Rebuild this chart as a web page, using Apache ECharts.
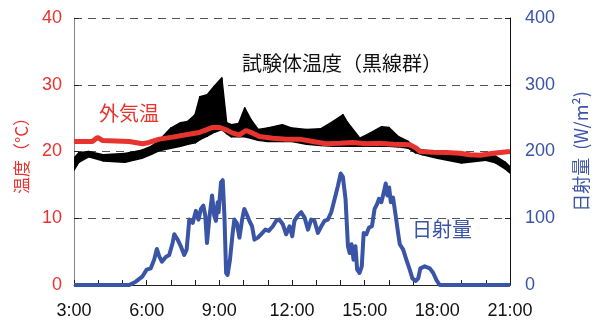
<!DOCTYPE html>
<html>
<head>
<meta charset="utf-8">
<script src="https://cdn.jsdelivr.net/npm/echarts@6/dist/echarts.min.js"></script>
<style>
  html, body { margin: 0; padding: 0; background: #fff; }
  #chart { width: 598px; height: 323px; }
</style>
</head>
<body>
<div id="chart"></div>
<script>
// Time of day in hours (3:00 - 21:00)
var bandTimes = [3.0, 3.2, 3.6, 4.2, 5.1, 5.8, 6.2, 6.5, 7.0, 7.4, 7.7, 8.0, 8.2, 8.5, 8.8, 9.1, 9.3, 9.5, 9.8, 10.05, 10.3, 10.6, 11.0, 11.6, 12.0, 12.6, 13.2, 13.7, 14.1, 14.3, 14.8, 15.2, 15.7, 16.0, 16.4, 16.8, 17.1, 17.4, 18.0, 19.0, 20.0, 20.4, 20.8, 21.0];
// Specimen temperatures (black line group): lowest and highest curve, °C
var specimenLow  = [17.2, 18.4, 19.2, 18.6, 18.4, 19.0, 19.6, 20.1, 20.5, 20.8, 21.1, 21.3, 21.8, 22.3, 22.9, 23.3, 22.7, 22.2, 22.2, 22.2, 22.0, 21.7, 21.5, 21.5, 21.5, 21.1, 20.9, 20.8, 20.8, 20.8, 20.8, 20.8, 20.8, 20.8, 20.7, 20.5, 19.8, 19.5, 19.0, 18.3, 18.7, 18.3, 17.4, 16.8];
var specimenHigh = [19.0, 19.8, 20.0, 19.5, 19.7, 20.2, 20.8, 21.6, 23.5, 24.3, 24.5, 25.5, 28.2, 28.5, 29.8, 31.0, 24.3, 24.0, 24.2, 26.5, 24.8, 23.3, 23.5, 24.0, 23.5, 23.3, 23.4, 24.5, 25.5, 24.3, 22.0, 22.7, 23.7, 23.6, 22.2, 21.5, 20.5, 20.2, 19.9, 19.3, 19.5, 19.3, 18.4, 17.7];

// Outdoor air temperature, °C
var airTimes = [3.0, 3.76, 3.97, 4.17, 5.28, 5.83, 6.1, 6.52, 7.07, 7.62, 8.17, 8.45, 8.72, 9.0, 9.28, 9.55, 9.83, 10.1, 10.38, 10.66, 11.21, 11.76, 12.31, 12.86, 13.41, 13.97, 14.52, 15.07, 15.62, 16.17, 16.86, 17.14, 17.28, 17.83, 18.38, 18.93, 19.34, 19.76, 20.31, 21.0];
var airTemp  = [21.5, 21.5, 22.1, 21.65, 21.5, 21.15, 21.35, 21.85, 22.15, 22.5, 22.85, 23.25, 23.6, 23.6, 23.25, 22.75, 22.5, 23.15, 22.75, 22.25, 22.0, 21.85, 21.85, 21.5, 21.15, 21.25, 21.35, 21.15, 21.25, 21.1, 21.0, 20.5, 20.0, 19.9, 19.85, 19.75, 19.5, 19.45, 19.75, 20.0];

// Solar radiation, W/m²
var solarTimes = [3.0, 5.28, 5.55, 5.83, 6.0, 6.17, 6.31, 6.42, 6.52, 6.63, 6.79, 6.93, 7.07, 7.14, 7.28, 7.41, 7.55, 7.65, 7.76, 7.9, 8.03, 8.14, 8.24, 8.34, 8.42, 8.49, 8.59, 8.70, 8.79, 8.86, 8.93, 8.97, 9.07, 9.14, 9.21, 9.28, 9.34, 9.44, 9.55, 9.62, 9.72, 9.83, 9.94, 10.03, 10.13, 10.24, 10.35, 10.45, 10.59, 10.72, 10.9, 11.04, 11.21, 11.34, 11.48, 11.62, 11.76, 11.9, 12.01, 12.1, 12.24, 12.38, 12.52, 12.66, 12.79, 12.93, 13.07, 13.21, 13.34, 13.48, 13.62, 13.76, 13.9, 14.01, 14.1, 14.21, 14.31, 14.38, 14.46, 14.54, 14.62, 14.69, 14.79, 14.88, 14.96, 15.07, 15.18, 15.30, 15.41, 15.51, 15.59, 15.69, 15.79, 15.87, 15.94, 16.01, 16.08, 16.17, 16.28, 16.38, 16.45, 16.59, 16.72, 16.86, 16.97, 17.11, 17.21, 17.30, 17.48, 17.69, 17.83, 17.97, 18.1, 21.0];
var solarValues = [0, 0, 5, 13, 23, 25, 38, 54, 43, 35, 42, 45, 63, 76, 68, 58, 45, 53, 98, 93, 111, 98, 114, 119, 104, 63, 101, 134, 104, 96, 124, 109, 154, 157, 104, 18, 15, 38, 78, 98, 93, 71, 98, 114, 106, 96, 88, 68, 71, 76, 83, 81, 88, 96, 98, 91, 76, 88, 73, 96, 104, 109, 101, 83, 98, 96, 78, 88, 96, 98, 109, 129, 149, 167, 162, 129, 58, 48, 61, 38, 58, 23, 18, 28, 78, 76, 86, 88, 114, 121, 129, 124, 139, 152, 134, 146, 124, 131, 104, 78, 61, 53, 38, 23, 10, 6, 10, 25, 28, 25, 18, 7, 0, 0];

// Axis tick settings
var hourTicks = [3, 21, 3];      // min, max, step (hours)
var tempTicks = [0, 40, 10];     // °C
var solarTicks = [0, 400, 100];  // W/m²

function pairs(xs, ys) {
  return xs.map(function (x, i) { return [x, ys[i]]; });
}

var RED = '#e8342f';
var BLUE = '#3a54a6';
var LATIN = '"Liberation Sans", Arial, sans-serif';
var CJK = '"Noto Sans CJK JP", sans-serif';

// rows: [time, lowest specimen temp, highest specimen temp]
var bandRows = bandTimes.map(function (t, i) { return [t, specimenLow[i], specimenHigh[i]]; });

// Each item fills the strip between the lowest and highest curve up to the next time step
function renderBand(params, api) {
  var i = params.dataIndex;
  if (i >= bandRows.length - 1) return null;
  var a = bandRows[i], b = bandRows[i + 1];
  var p1 = api.coord([a[0], a[1]]);
  var p2 = api.coord([a[0], a[2]]);
  var p3 = api.coord([b[0], b[2]]);
  var p4 = api.coord([b[0], b[1]]);
  return {
    type: 'polygon',
    shape: { points: [p1, p2, p3, p4] },
    style: { fill: '#000', stroke: '#000', lineWidth: 1.6, lineJoin: 'round' }
  };
}

var chart = echarts.init(document.getElementById('chart'), null, { renderer: 'canvas' });

chart.setOption({
  animation: false,
  backgroundColor: '#ffffff',
  grid: { left: 74, right: 88, top: 18, bottom: 38 },
  xAxis: {
    type: 'value',
    min: hourTicks[0], max: hourTicks[1], interval: hourTicks[2],
    axisLine: { show: true, onZero: false, lineStyle: { color: '#222', width: 1 } },
    axisTick: { show: true, inside: true, length: 5, lineStyle: { color: '#222' } },
    minorTick: { show: true, splitNumber: 3, length: 5, lineStyle: { color: '#222' } },
    splitLine: { show: false },
    axisLabel: {
      color: '#111', fontSize: 18, fontFamily: LATIN, margin: 17,
      formatter: function (v) { return v + ':00'; }
    }
  },
  yAxis: [
    {
      type: 'value',
      min: tempTicks[0], max: tempTicks[1], interval: tempTicks[2],
      position: 'left',
      name: '温度（°C）',
      nameLocation: 'middle',
      nameGap: 44,
      nameRotate: 90,
      nameTextStyle: { color: RED, fontSize: 17, fontFamily: CJK },
      axisLine: { show: true, lineStyle: { color: '#888', width: 1 } },
      axisTick: { show: true, inside: true, length: 5, lineStyle: { color: '#222' } },
      axisLabel: { color: RED, fontSize: 18, fontFamily: LATIN, margin: 12 },
      splitLine: { show: true, lineStyle: { color: '#555', type: [8, 6], width: 1.2 } }
    },
    {
      type: 'value',
      min: solarTicks[0], max: solarTicks[1], interval: solarTicks[2],
      position: 'right',
      name: '日射量  (W/m²)',
      nameLocation: 'middle',
      nameGap: 62,
      nameRotate: 90,
      nameTextStyle: { color: BLUE, fontSize: 18, fontFamily: CJK },
      axisLine: { show: true, lineStyle: { color: '#111', width: 1 } },
      axisTick: { show: true, inside: true, length: 5, lineStyle: { color: '#222' } },
      axisLabel: { color: BLUE, fontSize: 18, fontFamily: LATIN, margin: 15 },
      splitLine: { show: false }
    }
  ],
  series: [
    {
      name: '試験体温度',
      type: 'custom',
      yAxisIndex: 0,
      renderItem: renderBand,
      encode: { x: 0, y: [1, 2] },
      data: bandRows,
      clip: true,
      z: 2
    },
    {
      name: '外気温',
      type: 'line',
      yAxisIndex: 0,
      symbol: 'none',
      lineStyle: { color: RED, width: 5 },
      data: pairs(airTimes, airTemp),
      z: 3
    },
    {
      name: '日射量',
      type: 'line',
      yAxisIndex: 1,
      symbol: 'none',
      lineStyle: { color: BLUE, width: 4, join: 'round' },
      data: pairs(solarTimes, solarValues),
      z: 3
    }
  ],
  graphic: [
    {
      type: 'text', left: 242, top: 53, z: 10,
      style: { text: '試験体温度（黒線群）', fill: '#111', font: '20px "Noto Sans CJK JP", sans-serif' }
    },
    {
      type: 'text', left: 99, top: 103, z: 10,
      style: { text: '外気温', fill: RED, font: '20px "Noto Sans CJK JP", sans-serif' }
    },
    {
      type: 'text', left: 412, top: 219, z: 10,
      style: { text: '日射量', fill: BLUE, font: '20px "Noto Sans CJK JP", sans-serif' }
    }
  ]
});
</script>
</body>
</html>
